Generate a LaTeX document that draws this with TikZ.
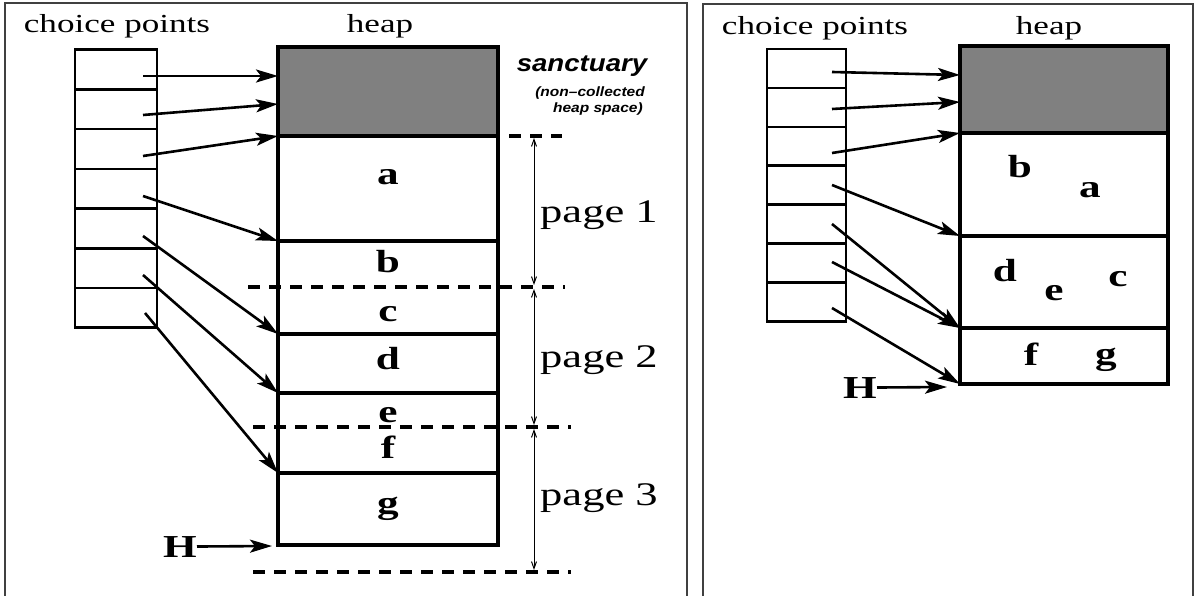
\documentclass[tikz,border=0pt]{standalone}
\usepackage{fontspec}
\setmainfont{Liberation Serif}[FakeStretch=1.35]
\newfontfamily\sancfont{Liberation Sans}[FakeStretch=1.15]
\usetikzlibrary{arrows.meta}

\begin{document}
\begin{tikzpicture}[
  x=1pt, y=-1pt,
  panel/.style={draw=black!75, line width=1.2pt},
  cell node/.style={draw, line width=2.6pt, minimum width=82pt, minimum height=39.7pt, inner sep=0pt, outer sep=0pt},
  seg node/.style={draw, line width=3.2pt, minimum width=220pt, inner sep=0pt, outer sep=0pt},
  title node/.style={anchor=base, inner sep=0pt, font=\fontsize{26}{30}\selectfont},
  item node/.style={anchor=base, inner sep=0pt, font=\fontsize{32}{36}\selectfont\bfseries},
  page node/.style={anchor=base west, inner sep=0pt, font=\fontsize{33}{38}\selectfont},
  note node/.style={anchor=base east, inner sep=0pt, font=\sancfont\fontsize{13.5}{16}\selectfont\bfseries\itshape},
  ptr edge/.style={-{Stealth[length=22pt,width=13pt,inset=5pt]}, line width=2.6pt},
  page cut/.style={line width=3.2pt, dash pattern=on 12pt off 9pt},
  page span/.style={{Straight Barb[length=7pt,width=5pt]}-{Straight Barb[length=7pt,width=5pt]}, line width=1pt}
]
\useasboundingbox (0,0) rectangle (1195,596);

% the two panels, open at the bottom
\draw[panel] (5,600) -- (5,3) -- (687,3) -- (687,600);
\draw[panel] (703,600) -- (703,4) -- (1193,4) -- (1193,600);

%%% before collection
\node[title node] (cpTitleL) at (117,33) {choice points};
\node[title node] (heapTitleL) at (380,33) {heap};

\node[cell node] (cpL1) at (116,69.6) {};
\node[cell node] (cpL2) at (116,109.3) {};
\node[cell node] (cpL3) at (116,149.0) {};
\node[cell node] (cpL4) at (116,188.7) {};
\node[cell node] (cpL5) at (116,228.4) {};
\node[cell node] (cpL6) at (116,268.1) {};
\node[cell node] (cpL7) at (116,307.8) {};

\node[seg node, fill=black!50, minimum height=89pt] (sancL) at (388,91.5) {};
\node[seg node, minimum height=105pt] (segAL) at (388,188.5) {};
\node[seg node, minimum height=93pt] (segBL) at (388,287.5) {};
\node[seg node, minimum height=59pt] (segDL) at (388,363.5) {};
\node[seg node, minimum height=80pt] (segEL) at (388,433) {};
\node[seg node, minimum height=72pt] (segGL) at (388,509) {};

\node[item node] (aL) at (388,185) {a};
\node[item node] (bL) at (388,273) {b};
\node[item node] (cL) at (388,322) {c};
\node[item node] (dL) at (388,370) {d};
\node[item node] (eL) at (388,422) {e};
\node[item node] (fL) at (388,458) {f};
\node[item node] (gL) at (388,513) {g};

\node[anchor=base, inner sep=0pt, font=\sancfont\fontsize{24}{28}\selectfont\bfseries\itshape] (sanct) at (582,72) {sanctuary};
\node[note node] (sanctNote1) at (645,97) {(non–collected};
\node[note node] (sanctNote2) at (643,113) {heap space)};

% page boundaries
\draw[page cut] (278,136) -- (562,136);
\draw[page cut] (248,287) -- (565,287);
\draw[page cut] (253,427) -- (571,427);
\draw[page cut] (253,572) -- (571,572);

\coordinate (pg0) at (534,138);
\coordinate (pg1a) at (534,285);
\coordinate (pg1b) at (534,289);
\coordinate (pg2a) at (534,425);
\coordinate (pg2b) at (534,429);
\coordinate (pg3) at (534,570);
\draw[page span] (pg0) -- (pg1a);
\draw[page span] (pg1b) -- (pg2a);
\draw[page span] (pg2b) -- (pg3);
\node[page node] (page1) at (540,223) {page 1};
\node[page node] (page2) at (540,367) {page 2};
\node[page node] (page3) at (540,505) {page 3};

% pointers into the heap
\coordinate (tL1) at (143,76);
\coordinate (tL2) at (143,115);
\coordinate (tL3) at (143,156);
\coordinate (tL4) at (143,196);
\coordinate (tL5) at (143,236);
\coordinate (tL6) at (143,275);
\coordinate (tL7) at (145,313);
\coordinate (hL2) at (278,104);
\draw[ptr edge] (tL1) -- (sancL.west |- tL1);
\draw[ptr edge] (tL2) -- (hL2);
\draw[ptr edge] (tL3) -- (sancL.south west);
\draw[ptr edge] (tL4) -- (segAL.south west);
\draw[ptr edge] (tL5) -- (segBL.south west);
\draw[ptr edge] (tL6) -- (segDL.south west);
\draw[ptr edge] (tL7) -- (segEL.south west);

\node[item node] (HL) at (180,557) {H};
\coordinate (hHL) at (272,546);
\draw[ptr edge] (HL.east) -- (hHL);

%%% after collection
\node[title node] (cpTitleR) at (815,35) {choice points};
\node[title node] (heapTitleR) at (1049,35) {heap};

\node[cell node, minimum width=79pt, minimum height=38.9pt] (cpR1) at (806.5,68.5) {};
\node[cell node, minimum width=79pt, minimum height=38.9pt] (cpR2) at (806.5,107.4) {};
\node[cell node, minimum width=79pt, minimum height=38.9pt] (cpR3) at (806.5,146.3) {};
\node[cell node, minimum width=79pt, minimum height=38.9pt] (cpR4) at (806.5,185.2) {};
\node[cell node, minimum width=79pt, minimum height=38.9pt] (cpR5) at (806.5,224.1) {};
\node[cell node, minimum width=79pt, minimum height=38.9pt] (cpR6) at (806.5,263.0) {};
\node[cell node, minimum width=79pt, minimum height=38.9pt] (cpR7) at (806.5,301.9) {};

\node[seg node, fill=black!50, minimum width=208pt, minimum height=87pt] (sancR) at (1064,89.5) {};
\node[seg node, minimum width=208pt, minimum height=103pt] (segR1) at (1064,184.5) {};
\node[seg node, minimum width=208pt, minimum height=92pt] (segR2) at (1064,282) {};
\node[seg node, minimum width=208pt, minimum height=56pt] (segR3) at (1064,356) {};
\draw[line width=4.5pt] (segR2.south west) -- (segR2.south east);

\node[item node] (bR) at (1020,178) {b};
\node[item node] (aR) at (1090,198) {a};
\node[item node] (dR) at (1005,282) {d};
\node[item node] (eR) at (1054,301) {e};
\node[item node] (cR) at (1118,287) {c};
\node[item node] (fR) at (1031,365) {f};
\node[item node] (gR) at (1106,364) {g};

\coordinate (tR1) at (832,72);
\coordinate (tR2) at (832,109);
\coordinate (tR3) at (832,153);
\coordinate (tR4) at (832,185);
\coordinate (tR5) at (832,224);
\coordinate (tR6) at (832,262);
\coordinate (tR7) at (832,308);
\coordinate (hR1) at (960,75);
\coordinate (hR2) at (960,102);
\draw[ptr edge] (tR1) -- (hR1);
\draw[ptr edge] (tR2) -- (hR2);
\draw[ptr edge] (tR3) -- (sancR.south west);
\draw[ptr edge] (tR4) -- (segR1.south west);
\draw[ptr edge] (tR5) -- (segR2.south west);
\draw[ptr edge] (tR6) -- (segR2.south west);
\draw[ptr edge] (tR7) -- (segR3.south west);

\node[item node] (HR) at (860,398) {H};
\coordinate (hHR) at (947,387);
\draw[ptr edge] (HR.east) -- (hHR);
\end{tikzpicture}
\end{document}
